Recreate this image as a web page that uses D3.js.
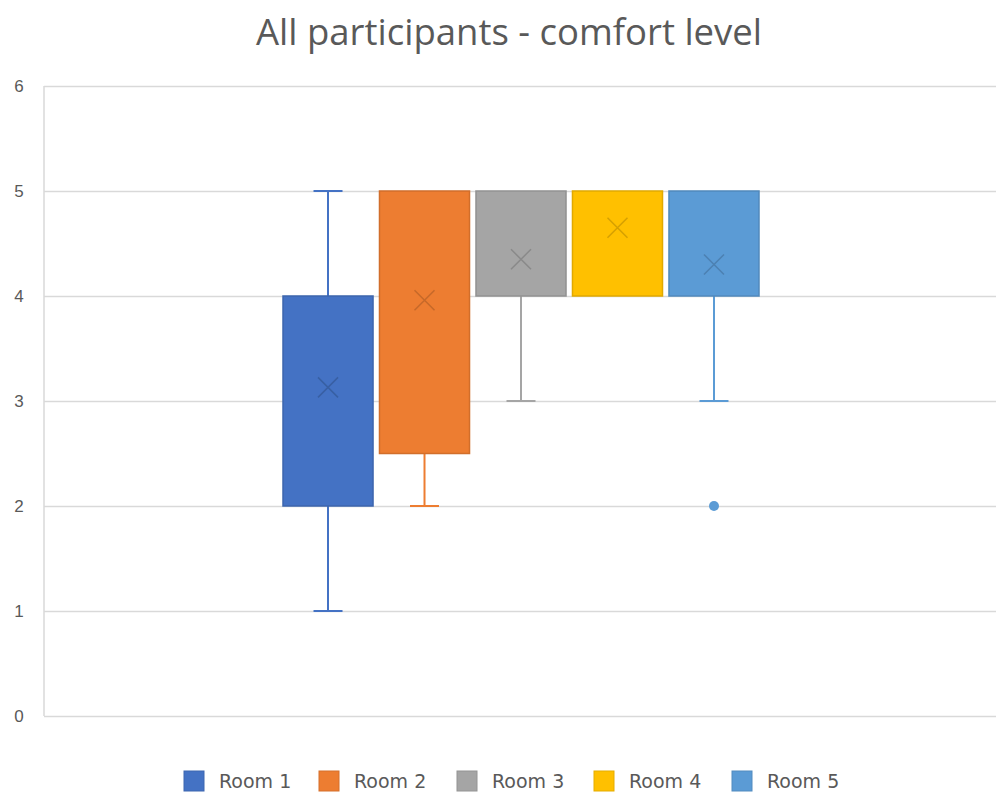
<!DOCTYPE html>
<html>
<head>
<meta charset="utf-8">
<script src="https://cdn.jsdelivr.net/npm/d3@7"></script>
<style>
  html, body { margin: 0; padding: 0; background: #fff; }
  svg { display: block; font-family: "Open Sans", "Noto Sans", sans-serif; }
</style>
</head>
<body>
<svg id="chart" width="996" height="796"></svg>
<script>
// Comfort ratings per room (box-plot summary statistics)
const rooms = ["Room 1", "Room 2", "Room 3", "Room 4", "Room 5"];
const colors = ["#4472C4", "#ED7D31", "#A5A5A5", "#FFC000", "#5B9BD5"];
const q1 = [2, 2.5, 4, 4, 4];
const q3 = [4, 5, 5, 5, 5];
const whiskerLow = [1, 2, 3, 4, 3];
const whiskerHigh = [5, 5, 5, 5, 5];
const means = [3.13, 3.96, 4.35, 4.65, 4.30];
const outliers = [[], [], [], [], [2]];
const yTicks = [0, 1, 2, 3, 4, 5, 6];
const titleText = "All participants - comfort level";

const svg = d3.select("#chart");
const W = 996, H = 796;
const margin = { top: 86, right: 0, bottom: 80, left: 44 };

const y = d3.scaleLinear().domain([0, 6]).range([H - margin.bottom, margin.top]);
const xGroup = d3.scaleBand().domain(["all"]).range([margin.left + 1, W - margin.right + 1]).paddingInner(0).paddingOuter(0.5);
const xSeries = d3.scaleBand().domain(rooms).range([0, xGroup.bandwidth()]).paddingInner(0.067);

// Title
svg.append("text")
  .attr("x", 509).attr("y", 45)
  .attr("text-anchor", "middle")
  .attr("font-size", 36.5)
  .attr("fill", "#595959")
  .text(titleText);

// Gridlines and y axis
const yAxis = d3.axisLeft(y).tickValues(yTicks).tickSize(-(W - margin.left - margin.right)).tickFormat(d3.format("d"));
const gy = svg.append("g").attr("transform", `translate(${margin.left},0)`).call(yAxis);
gy.select(".domain").remove();
gy.selectAll(".tick line").attr("stroke", "#D9D9D9").attr("stroke-width", 1.5);
gy.selectAll(".tick text").attr("x", -25).attr("fill", "#595959").attr("font-size", 17).attr("text-anchor", "middle");

// Left plot border
svg.append("line")
  .attr("x1", margin.left).attr("x2", margin.left)
  .attr("y1", y(6)).attr("y2", y(0))
  .attr("stroke", "#D9D9D9").attr("stroke-width", 1.5);

const g0 = xGroup("all");
const capW = 29;

rooms.forEach((r, i) => {
  const x0 = g0 + xSeries(r);
  const bw = xSeries.bandwidth();
  const cx = x0 + bw / 2;
  const c = colors[i];
  const dark = d3.color(c).darker(0.35).formatHex();
  const g = svg.append("g");

  // whiskers
  if (whiskerLow[i] < q1[i]) {
    g.append("line").attr("x1", cx).attr("x2", cx).attr("y1", y(q1[i])).attr("y2", y(whiskerLow[i]))
      .attr("stroke", c).attr("stroke-width", 2);
    g.append("line").attr("x1", cx - capW / 2).attr("x2", cx + capW / 2).attr("y1", y(whiskerLow[i])).attr("y2", y(whiskerLow[i]))
      .attr("stroke", c).attr("stroke-width", 2);
  }
  if (whiskerHigh[i] > q3[i]) {
    g.append("line").attr("x1", cx).attr("x2", cx).attr("y1", y(q3[i])).attr("y2", y(whiskerHigh[i]))
      .attr("stroke", c).attr("stroke-width", 2);
    g.append("line").attr("x1", cx - capW / 2).attr("x2", cx + capW / 2).attr("y1", y(whiskerHigh[i])).attr("y2", y(whiskerHigh[i]))
      .attr("stroke", c).attr("stroke-width", 2);
  }

  // box
  g.append("rect")
    .attr("x", x0).attr("y", y(q3[i]))
    .attr("width", bw).attr("height", y(q1[i]) - y(q3[i]))
    .attr("fill", c).attr("stroke", dark).attr("stroke-width", 1.5);

  // mean marker
  const m = 10;
  const my = y(means[i]);
  g.append("path")
    .attr("d", `M${cx - m},${my - m}L${cx + m},${my + m}M${cx - m},${my + m}L${cx + m},${my - m}`)
    .attr("stroke", d3.color(c).darker(0.9).formatHex()).attr("stroke-width", 1.5).attr("opacity", 0.6).attr("fill", "none");

  // outliers
  outliers[i].forEach(v => {
    g.append("circle").attr("cx", cx).attr("cy", y(v)).attr("r", 5).attr("fill", c);
  });
});

// Legend
const legendX = [184, 319, 457, 594, 732];
const lg = svg.append("g");
rooms.forEach((r, i) => {
  lg.append("rect").attr("x", legendX[i]).attr("y", 771).attr("width", 20).attr("height", 20)
    .attr("fill", colors[i]).attr("stroke", d3.color(colors[i]).darker(0.3).formatHex()).attr("stroke-width", 1);
  lg.append("text").attr("x", legendX[i] + 35).attr("y", 788)
    .attr("font-family", "DejaVu Sans").attr("font-size", 19).attr("fill", "#595959").text(r);
});
</script>
</body>
</html>
